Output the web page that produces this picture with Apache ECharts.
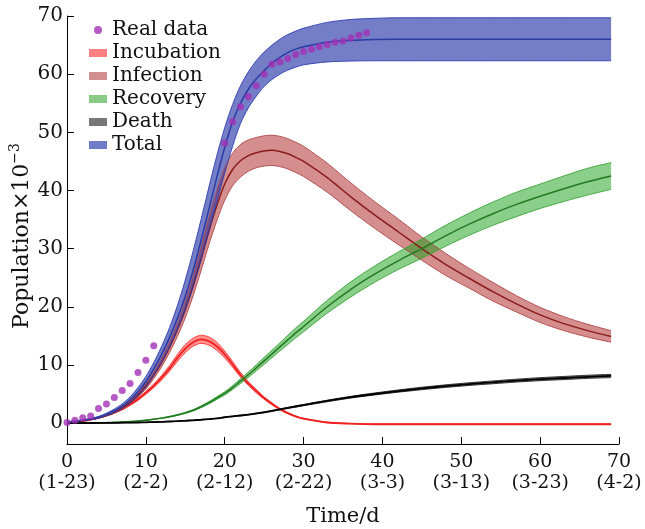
<!DOCTYPE html>
<html>
<head>
<meta charset="utf-8">
<script src="https://cdn.jsdelivr.net/npm/echarts@6/dist/echarts.min.js"></script>
<style>html,body{margin:0;padding:0;background:#fff}#c{width:645px;height:529px}</style>
</head>
<body>
<div id="c"></div>
<script>
const days = [0,1,2,3,4,5,6,7,8,9,10,11,12,13,14,15,16,17,18,19,20,21,22,23,24,25,26,27,28,29,30,33,36,39,42,45,48,51,54,57,60,63,66,69];

const totalMean = [0.2,0.3,0.5,0.7,1.0,1.5,2.1,2.9,4.0,5.4, 7.1,9.3,11.8,14.7,18.0,21.8,26.3,31.4,36.8,42.3, 47.4,51.8,55.0,57.4,59.2,60.6,61.9,62.9,63.7,64.3, 64.7, 65.5,65.8,65.95,66,66,66,66,66,66,66,66,66,66];
const totalHi = [0.2,0.35,0.55,0.8,1.15,1.7,2.4,3.3,4.5,6.1, 8.0,10.4,13.2,16.4,20.2,24.6,29.6,35.0,40.6,46.0, 50.8,54.8,58.0,60.4,62.3,63.8,65.0,66.0,66.8,67.4, 67.9, 68.9,69.4,69.6,69.7,69.7,69.7,69.7,69.7,69.7,69.7,69.7,69.7,69.7];
const totalLo = [0.15,0.25,0.45,0.6,0.85,1.3,1.8,2.5,3.5,4.7, 6.2,8.2,10.5,13.1,16.1,19.5,23.4,28.0,33.0,38.0, 43.0,47.6,51.5,54.2,56.2,57.9,59.1,60.0,60.7,61.2, 61.6, 62.1,62.25,62.3,62.3,62.3,62.3,62.3,62.3,62.3,62.3,62.3,62.3,62.3];

const infMean = [0.15,0.25,0.4,0.6,0.9,1.3,1.85,2.6,3.55,4.8, 6.3,8.2,10.4,13.0,16.0,19.5,23.6,28.2,33.0,37.4, 41.1,43.6,45.1,46.0,46.5,46.8,46.9,46.7,46.3,45.7, 45.0, 42.2,38.9,35.8,32.9,30.0,27.3,24.9,22.6,20.5,18.6,17.1,15.9,14.9];
const infHi = [0.16,0.27,0.43,0.64,0.96,1.39,1.98,2.78,3.8,5.14, 6.74,8.77,11.1,13.9,17.1,20.9,25.3,30.2,35.3,40.0, 43.9,46.4,47.9,48.7,49.1,49.4,49.5,49.3,48.9,48.3, 47.6, 44.7,41.3,38.1,35.1,32.0,29.2,26.6,24.2,21.9,19.9,18.3,17.0,15.9];
const infLo = [0.14,0.23,0.37,0.56,0.84,1.21,1.72,2.42,3.3,4.46, 5.86,7.63,9.7,12.1,14.9,18.1,21.9,26.2,30.7,34.8, 38.3,40.8,42.3,43.3,43.9,44.2,44.3,44.1,43.7,43.1, 42.4, 39.7,36.5,33.5,30.7,28.0,25.4,23.2,21.0,19.1,17.3,15.9,14.8,13.9];

const recMean = [0,0,0.02,0.03,0.05,0.08,0.12,0.17,0.25,0.35, 0.5,0.65,0.85,1.1,1.4,1.75,2.2,2.8,3.5,4.3, 5.1,6.1,7.2,8.3,9.5,10.7,11.9,13.1,14.3,15.5, 16.6, 20.0,23.0,25.6,27.9,30.0,32.2,34.2,36.0,37.6,39.0,40.3,41.5,42.5];
const recHi = [0,0,0.02,0.03,0.05,0.08,0.13,0.18,0.26,0.37, 0.53,0.69,0.9,1.16,1.48,1.85,2.32,2.95,3.7,4.53, 5.38,6.44,7.6,8.76,10.0,11.3,12.55,13.8,15.1,16.35, 17.5, 21.1,24.3,27.0,29.4,31.65,34.0,36.1,38.0,39.7,41.1,42.5,43.8,44.8];
const recLo = [0,0,0.02,0.03,0.05,0.08,0.11,0.16,0.24,0.33, 0.47,0.61,0.8,1.04,1.32,1.65,2.08,2.65,3.3,4.07, 4.82,5.76,6.8,7.84,8.98,10.1,11.25,12.4,13.5,14.65, 15.7, 18.9,21.7,24.2,26.4,28.35,30.4,32.3,34.0,35.5,36.9,38.1,39.2,40.2];

const deathMean = [0,0,0,0.01,0.02,0.03,0.04,0.06,0.08,0.1, 0.13,0.17,0.21,0.27,0.33,0.4,0.48,0.57,0.68,0.8, 1.0,1.15,1.3,1.45,1.65,1.85,2.1,2.35,2.6,2.85, 3.1, 3.8,4.45,5.0,5.5,5.95,6.35,6.7,7.0,7.3,7.55,7.75,7.95,8.1];
const deathHi = [0,0,0,0.01,0.02,0.03,0.04,0.06,0.08,0.1, 0.14,0.18,0.22,0.28,0.34,0.42,0.5,0.59,0.7,0.83, 1.04,1.19,1.35,1.5,1.71,1.92,2.17,2.43,2.69,2.95, 3.2, 3.93,4.6,5.17,5.69,6.16,6.57,6.93,7.24,7.55,7.81,8.02,8.22,8.38];
const deathLo = [0,0,0,0.01,0.02,0.03,0.04,0.06,0.08,0.1, 0.12,0.16,0.2,0.26,0.32,0.38,0.46,0.55,0.66,0.77, 0.96,1.11,1.25,1.4,1.59,1.78,2.03,2.27,2.51,2.75, 3.0, 3.67,4.3,4.83,5.31,5.74,6.13,6.47,6.76,7.05,7.29,7.48,7.68,7.82];

const incMean = [0.1,0.2,0.35,0.6,0.9,1.3,1.8,2.4,3.2,4.1, 5.2,6.4,7.8,9.4,11.2,12.8,13.9,14.4,14.1,13.2, 11.8,10.1,8.3,6.8,5.5,4.3,3.3,2.4,1.7,1.15, 0.75, 0.1,-0.1,-0.2,-0.2,-0.2,-0.2,-0.2,-0.2,-0.2,-0.2,-0.2,-0.2,-0.2];
const incHi = [0.1,0.21,0.37,0.63,0.95,1.37,1.89,2.52,3.36,4.3, 5.46,6.72,8.2,9.9,11.8,13.5,14.6,15.1,14.8,13.9, 12.4,10.6,8.7,7.1,5.8,4.5,3.5,2.5,1.8,1.2, 0.8, 0.13,-0.08,-0.17,-0.17,-0.17,-0.17,-0.17,-0.17,-0.17,-0.17,-0.17,-0.17,-0.17];
const incLo = [0.1,0.19,0.33,0.57,0.85,1.23,1.71,2.28,3.04,3.9, 4.94,6.08,7.4,8.9,10.6,12.1,13.2,13.7,13.4,12.5, 11.2,9.6,7.9,6.5,5.2,4.1,3.1,2.3,1.6,1.1, 0.7, 0.07,-0.12,-0.23,-0.23,-0.23,-0.23,-0.23,-0.23,-0.23,-0.23,-0.23,-0.23,-0.23];

const realX = [0,1,2,3,4,5,6,7,8,9,10,11,20,21,22,23,24,25,26,27,28,29,30,31,32,33,34,35,36,37,38];
const realY = [0.1,0.5,0.9,1.2,2.5,3.3,4.4,5.6,6.8,8.7,10.8,13.3,48.1,51.8,54.4,56.1,58.0,60.0,61.7,62.1,62.7,63.4,63.9,64.3,64.7,65.1,65.5,65.7,66.2,66.7,67.1];

const xTickValues = [0,10,20,30,40,50,60,70];
const xTickDates = ['1-23','2-2','2-12','2-22','3-3','3-13','3-23','4-2'];
const yTickValues = [0,10,20,30,40,50,60,70];

const FONT = "'DejaVu Serif', serif";
// value first, day second: the stacked dimension must be the first (value) column
const vpairs = arr => days.map((d, i) => [arr[i], d]);
const ENC = { x: 1, y: 0 };
const SM = 0.3;

function band(key, lo, hi, fill, edge) {
  const diff = hi.map((h, i) => h - lo[i]);
  return [
    { name: key + '-lo', type: 'line', stack: key, stackStrategy: 'all', data: vpairs(lo), encode: ENC, symbol: 'none', smooth: SM,
      lineStyle: { color: edge, width: 1 }, silent: true },
    { name: key, type: 'line', stack: key, stackStrategy: 'all', data: vpairs(diff), encode: ENC, symbol: 'none', smooth: SM,
      lineStyle: { color: edge, width: 1 }, areaStyle: { color: fill, opacity: 1 }, silent: true }
  ];
}
function mean(key, arr, color, width) {
  return { name: key + '-mean', type: 'line', data: vpairs(arr), encode: ENC, symbol: 'none', smooth: SM,
    lineStyle: { color: color, width: width }, silent: true };
}

const series = [].concat(
  band('Incubation', incLo, incHi, 'rgba(255,30,30,0.5)', 'rgba(255,60,60,0.9)'),
  [mean('Incubation', incMean, '#ee2020', 1.8)],
  band('Infection', infLo, infHi, 'rgba(170,30,30,0.5)', 'rgba(175,70,72,0.9)'),
  [mean('Infection', infMean, '#8c1b1b', 1.5)],
  band('Recovery', recLo, recHi, 'rgba(20,160,20,0.5)', 'rgba(60,165,55,0.9)'),
  [mean('Recovery', recMean, '#237a23', 1.5)],
  band('Death', deathLo, deathHi, 'rgba(0,0,0,0.5)', 'rgba(40,40,40,0.9)'),
  [mean('Death', deathMean, '#000000', 1.8)],
  band('Total', totalLo, totalHi, 'rgba(35,50,165,0.63)', 'rgba(45,60,180,0.9)'),
  [mean('Total', totalMean, '#2b3aa5', 1.5)],
  [{ name: 'Real data', type: 'scatter', data: realX.map((x, i) => [x, realY[i]]), symbol: 'circle', symbolSize: 7,
     itemStyle: { color: '#a22fb5' }, z: 5 }]
);

const chart = echarts.init(document.getElementById('c'), null, { renderer: 'canvas' });
chart.setOption({
  animation: false,
  backgroundColor: '#fff',
  grid: { left: 67, right: 26, top: 16, bottom: 85, containLabel: false, outerBoundsMode: 'none' },
  legend: {
    orient: 'vertical', left: 89, top: 20, padding: 0, itemWidth: 18, itemHeight: 8, itemGap: 3,
    textStyle: { fontFamily: FONT, fontSize: 20, lineHeight: 20, color: '#111' },
    data: [
      { name: 'Real data', icon: 'circle', itemStyle: { color: '#a22fb5' } },
      { name: 'Incubation', icon: 'rect', itemStyle: { color: '#ff8080' } },
      { name: 'Infection', icon: 'rect', itemStyle: { color: '#d18f8f' } },
      { name: 'Recovery', icon: 'rect', itemStyle: { color: '#8acb85' } },
      { name: 'Death', icon: 'rect', itemStyle: { color: '#777777' } },
      { name: 'Total', icon: 'rect', itemStyle: { color: '#6f7bc6' } }
    ]
  },
  xAxis: {
    type: 'value', min: 0, max: 70, interval: 10,
    axisLine: { show: true, onZero: false, lineStyle: { color: '#000', width: 1 } },
    axisTick: { show: true, inside: true, length: 7, lineStyle: { color: '#000' } },
    axisLabel: {
      fontFamily: FONT, fontSize: 19, lineHeight: 21, color: '#111', margin: 8,
      formatter: v => { const i = xTickValues.indexOf(v); return v + '\n(' + xTickDates[i] + ')'; }
    },
    splitLine: { show: false },
    name: 'Time/d', nameLocation: 'middle', nameGap: 62,
    nameTextStyle: { fontFamily: FONT, fontSize: 21, color: '#111' }
  },
  yAxis: {
    type: 'value', min: -3.6, max: 70,
    axisLine: { show: true, onZero: false, lineStyle: { color: '#000', width: 1 } },
    axisTick: { show: true, inside: true, length: 7, customValues: yTickValues, lineStyle: { color: '#000' } },
    axisLabel: { customValues: yTickValues, fontFamily: FONT, fontSize: 20, color: '#111', margin: 4 },
    splitLine: { show: false },
    name: 'Population×10{sup|−3}', nameLocation: 'middle', nameGap: 31, nameRotate: 90, nameMoveOverlap: false,
    nameTextStyle: {
      fontFamily: FONT, fontSize: 22, color: '#111', padding: [0, 12, 0, 0],
      rich: { sup: { fontFamily: FONT, fontSize: 14, color: '#111', verticalAlign: 'top', lineHeight: 28 } }
    }
  },
  series: series
});
</script>
</body>
</html>
